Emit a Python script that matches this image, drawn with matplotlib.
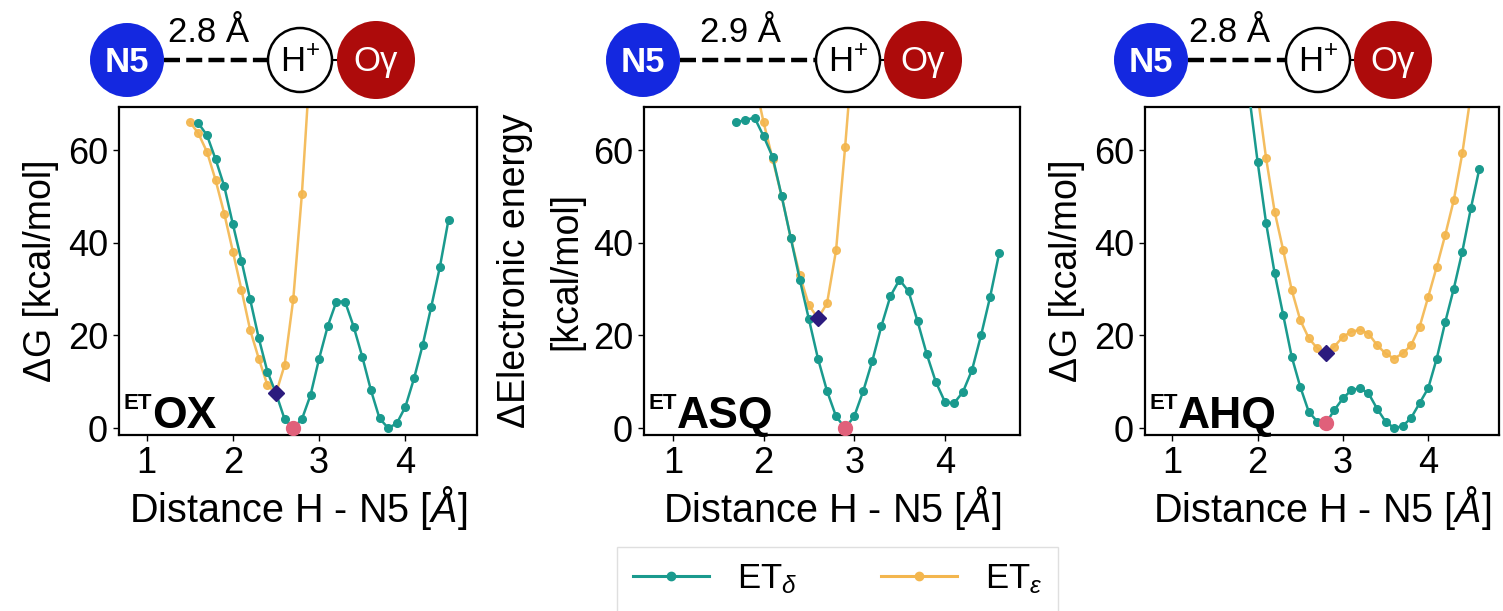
import numpy as np
import matplotlib.pyplot as plt
from matplotlib.patches import Circle
from matplotlib.lines import Line2D

plt.rcParams['font.family'] = ['Liberation Sans', 'DejaVu Sans']
plt.rcParams['mathtext.fontset'] = 'custom'
plt.rcParams['mathtext.rm'] = 'Liberation Sans'
plt.rcParams['mathtext.it'] = 'Liberation Sans:italic'
plt.rcParams['mathtext.bf'] = 'Liberation Sans:bold'

# ---- data (distance in Angstrom, energy in kcal/mol) ----
ox_delta_x = [1.6, 1.7, 1.8, 1.9, 2.0, 2.1, 2.2, 2.3, 2.4, 2.5, 2.6, 2.7, 2.8, 2.9, 3.0,
              3.1, 3.2, 3.3, 3.4, 3.5, 3.6, 3.7, 3.8, 3.9, 4.0, 4.1, 4.2, 4.3, 4.4, 4.5]
ox_delta_y = [65.8, 63.2, 58.0, 52.2, 44.0, 36.1, 27.8, 19.4, 12.2, 7.5, 1.9, 0.0, 1.9, 7.1, 15.0,
              22.0, 27.3, 27.3, 21.9, 15.4, 8.2, 2.1, 0.0, 1.0, 4.6, 10.7, 17.9, 26.2, 34.8, 45.0]
ox_eps_x = [1.5, 1.6, 1.7, 1.8, 1.9, 2.0, 2.1, 2.2, 2.3, 2.4, 2.5, 2.6, 2.7, 2.8, 2.9]
ox_eps_y = [66.1, 63.6, 59.6, 53.5, 46.3, 38.1, 29.8, 21.2, 15.0, 9.3, 7.5, 13.6, 27.8, 50.5, 80.0]

asq_delta_x = [1.7, 1.8, 1.9, 2.0, 2.1, 2.2, 2.3, 2.4, 2.5, 2.6, 2.7, 2.8, 2.9, 3.0, 3.1,
               3.2, 3.3, 3.4, 3.5, 3.6, 3.7, 3.8, 3.9, 4.0, 4.1, 4.2, 4.3, 4.4, 4.5, 4.6]
asq_delta_y = [66.0, 66.5, 67.0, 63.0, 58.5, 50.0, 41.0, 32.0, 23.5, 15.0, 8.0, 2.5, 0.0, 2.5, 8.0,
               14.5, 22.0, 28.5, 32.0, 29.5, 23.0, 16.0, 10.0, 5.7, 5.3, 7.8, 12.5, 20.0, 28.3, 37.7]
asq_eps_x = [1.9, 2.0, 2.1, 2.2, 2.3, 2.4, 2.5, 2.6, 2.7, 2.8, 2.9, 3.0]
asq_eps_y = [75.0, 66.0, 58.0, 50.0, 41.0, 33.0, 26.5, 23.7, 26.9, 38.4, 60.7, 85.0]

ahq_delta_x = [1.9, 2.0, 2.1, 2.2, 2.3, 2.4, 2.5, 2.6, 2.7, 2.8, 2.9, 3.0, 3.1, 3.2, 3.3,
               3.4, 3.5, 3.6, 3.7, 3.8, 3.9, 4.0, 4.1, 4.2, 4.3, 4.4, 4.5, 4.6]
ahq_delta_y = [72.0, 57.5, 44.2, 33.4, 24.4, 15.4, 8.9, 3.5, 1.4, 1.0, 3.9, 6.4, 8.2, 8.6, 7.5,
               4.2, 1.4, 0.0, 0.4, 2.2, 5.4, 8.6, 15.0, 22.9, 30.1, 38.1, 47.4, 56.0]
ahq_eps_x = [2.0, 2.1, 2.2, 2.3, 2.4, 2.5, 2.6, 2.7, 2.8, 2.9, 3.0, 3.1, 3.2, 3.3, 3.4,
             3.5, 3.6, 3.7, 3.8, 3.9, 4.0, 4.1, 4.2, 4.3, 4.4, 4.5]
ahq_eps_y = [72.0, 58.2, 46.7, 38.4, 29.8, 23.3, 19.4, 17.2, 16.1, 17.6, 19.7, 20.8, 21.2, 20.4, 17.9,
             16.1, 15.0, 16.1, 17.9, 21.9, 28.3, 34.8, 41.7, 49.2, 59.3, 72.0]

state_names = ["OX", "ASQ", "AHQ"]
ylabels = ["ΔG [kcal/mol]", "ΔElectronic energy\n[kcal/mol]", "ΔG [kcal/mol]"]
distances = ["2.8 Å", "2.9 Å", "2.8 Å"]
red_x = [2.7, 2.9, 2.8]      # reactant minimum on ET_delta
diamond_x = [2.5, 2.6, 2.8]  # minimum on ET_epsilon

series = [
    (ox_delta_x, ox_delta_y, ox_eps_x, ox_eps_y),
    (asq_delta_x, asq_delta_y, asq_eps_x, asq_eps_y),
    (ahq_delta_x, ahq_delta_y, ahq_eps_x, ahq_eps_y),
]

TEAL = "#1a9a8e"
ORANGE = "#f3b64e"
RED = "#e0607a"
NAVY = "#2c1b7e"

W, H = 1503, 611
fig = plt.figure(figsize=(W / 100, H / 100), dpi=100, facecolor="white")

# axes boxes in pixels (left, right), shared top / bottom
boxes = [(119, 477), (644, 1020), (1145, 1499)]
top_px, bot_px = 107, 435
# molecule sketch: x centres of N5, H+, O-gamma
sketch = [(127, 300, 376), (643, 848, 923), (1151, 1318, 1393)]

for i, ((l, r), (dx, dy, ex, ey)) in enumerate(zip(boxes, series)):
    ax = fig.add_axes([l / W, 1 - bot_px / H, (r - l) / W, (bot_px - top_px) / H])
    ax.plot(ex, ey, "-o", color=ORANGE, lw=1.8, ms=5.5, mec=ORANGE, alpha=0.9, zorder=2)
    ax.plot(dx, dy, "-o", color=TEAL, lw=1.8, ms=5.5, mec=TEAL, zorder=3)
    ry = dy[dx.index(red_x[i])]
    ax.plot(red_x[i], ry, "o", color=RED, ms=10, zorder=4)
    dmy = ey[ex.index(diamond_x[i])]
    ax.plot(diamond_x[i], dmy, "D", color=NAVY, ms=8, zorder=5)

    ax.set_xlim(0.68, 4.83)
    ax.set_ylim(-1.5, 69.3)
    ax.set_xticks([1, 2, 3, 4])
    ax.set_yticks([0, 20, 40, 60])
    ax.tick_params(labelsize=26, length=4, width=1, pad=4)
    for s in ax.spines.values():
        s.set_linewidth(1.6)
    ax.set_xlabel("Distance H - N5 [$\\mathit{\\AA}$]", fontsize=28.5, labelpad=2)
    ax.set_ylabel(ylabels[i], fontsize=27, labelpad=6, linespacing=1.55)

    et = ax.text(0.012, 0.128, "ET", transform=ax.transAxes, fontsize=16,
                 fontweight="bold", ha="left", va="top")
    ax.annotate(state_names[i], xy=(1.0, 1.0), xycoords=et, xytext=(0, -2),
                textcoords="offset points", fontsize=32, fontweight="bold",
                ha="left", va="top")

# molecule sketches above each panel
ov = fig.add_axes([0, 0, 1, 1])
ov.set_xlim(0, W)
ov.set_ylim(H, 0)
ov.axis("off")
ov.patch.set_visible(False)
cy = 60
for (nx, hx, ox), lab in zip(sketch, distances):
    ov.plot([nx + 37, hx - 33], [cy, cy], color="black", lw=3.2, ls=(0, (3.6, 1.4)), zorder=1)
    ov.plot([hx, ox], [cy, cy], color="black", lw=1.5, zorder=1)
    ov.add_patch(Circle((nx, cy), 37, facecolor="#1428e0", edgecolor="none", zorder=2))
    ov.add_patch(Circle((hx, cy), 32, facecolor="white", edgecolor="black", lw=1.8, zorder=2))
    ov.add_patch(Circle((ox, cy), 39, facecolor="#ad0b0b", edgecolor="none", zorder=2))
    ov.text(nx, cy + 2, "N5", color="white", fontsize=25, fontweight="bold",
            ha="center", va="center", zorder=3)
    ov.text(hx, cy + 2, "H$^{+}$", color="black", fontsize=25,
            ha="center", va="center", zorder=3)
    ov.text(ox, cy + 1, "Oγ", color="white", fontsize=25,
            ha="center", va="center", zorder=3)
    ov.text((nx + hx) / 2 - 5, 32, lab, color="black", fontsize=25,
            ha="center", va="center", zorder=3)

handles = [
    Line2D([], [], color=TEAL, marker="o", ms=6, lw=2.2),
    Line2D([], [], color=ORANGE, marker="o", ms=6, lw=2.2),
]
fig.legend(handles, ["ET$_{\\delta}$", "ET$_{\\varepsilon}$"], loc="upper left",
           bbox_to_anchor=(617 / W, 1 - 547 / H), borderaxespad=0, ncol=2, fontsize=25,
           frameon=True, edgecolor="#d8d8d8", fancybox=False, handlelength=2.2,
           handletextpad=0.8, columnspacing=2.4, borderpad=0.45)

fig.savefig("out.png", dpi=100, facecolor="white")
